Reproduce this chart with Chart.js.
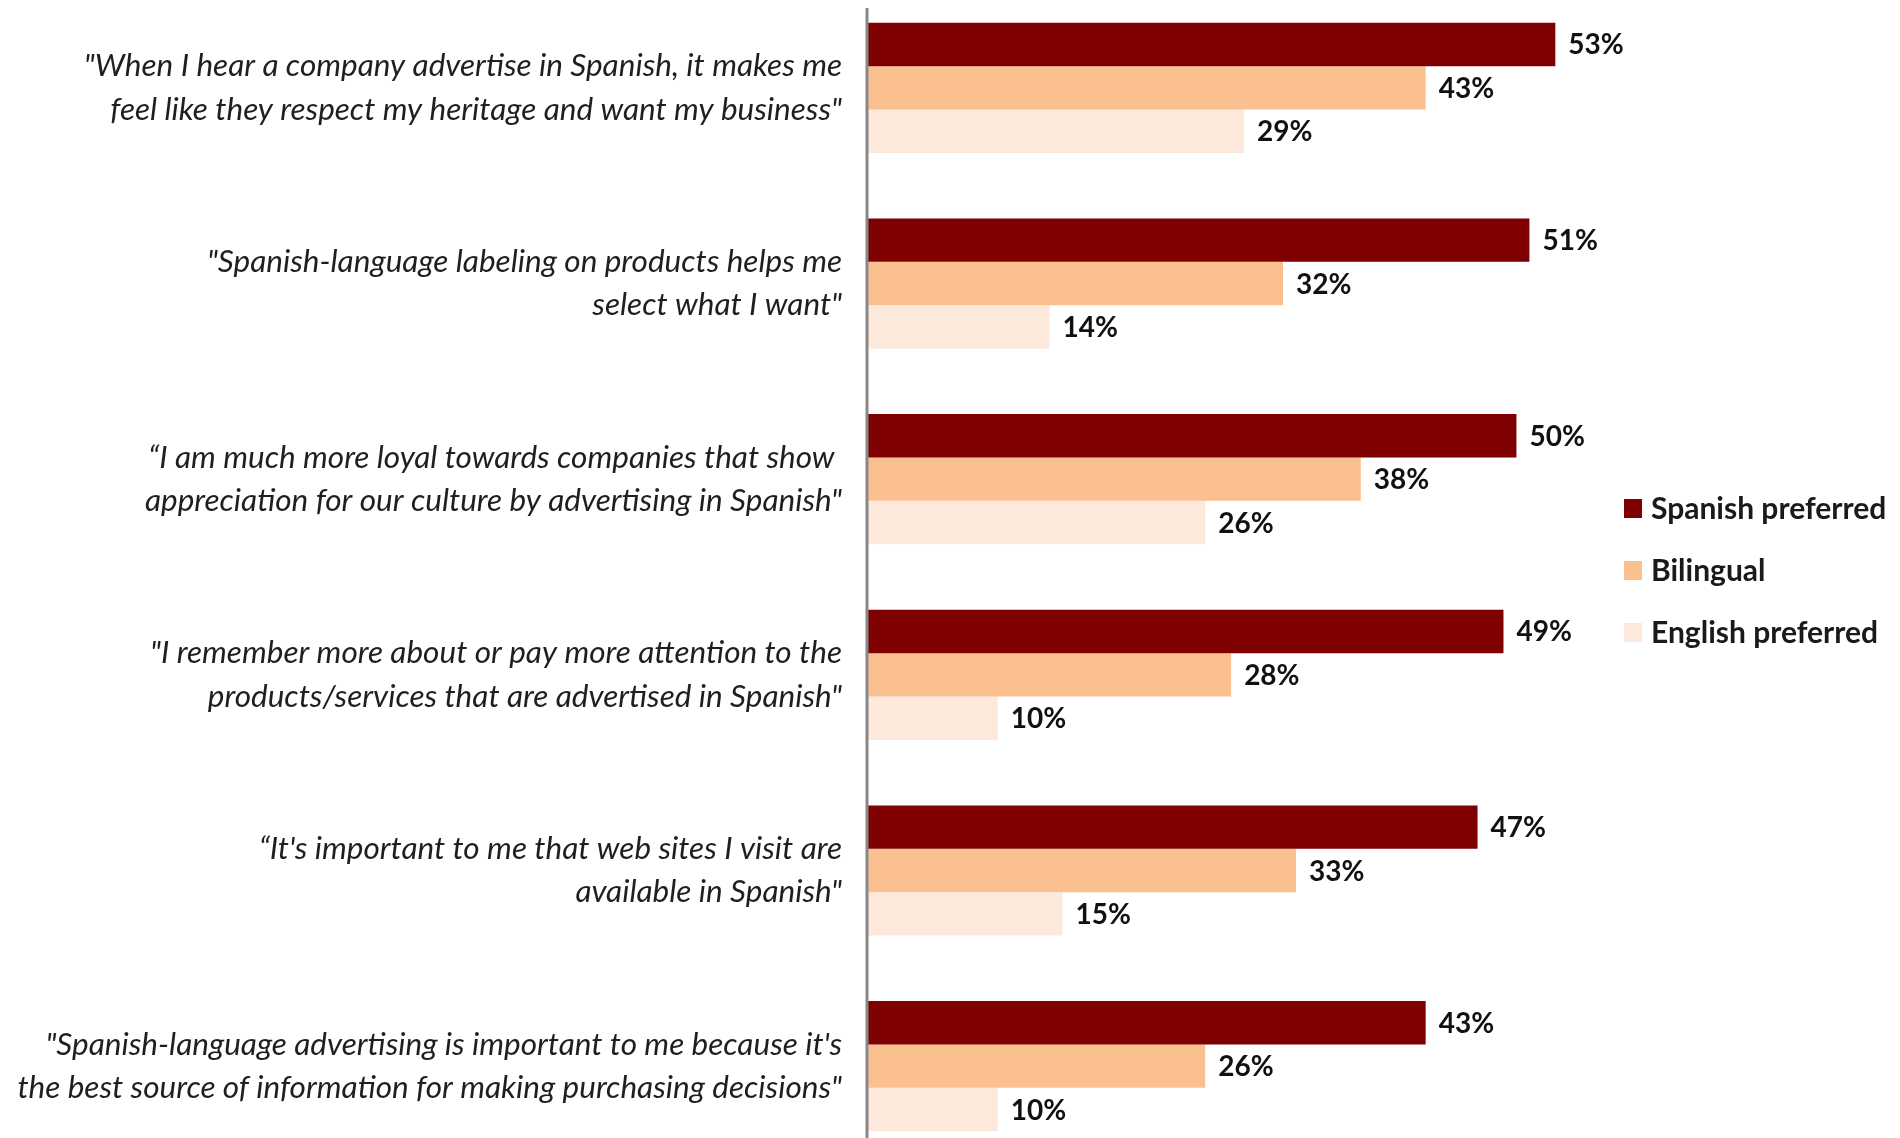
<!DOCTYPE html>
<html>
<head>
<meta charset="utf-8">
<script src="https://cdn.jsdelivr.net/npm/chart.js@4.4.1/dist/chart.umd.min.js"></script>
<style>
  html, body { margin: 0; padding: 0; background: #ffffff; overflow: hidden; }
  body { width: 1900px; height: 1138px; position: relative; }
  #wrap { position: absolute; left: 0; top: -10px; width: 1900px; height: 1174px; }
</style>
</head>
<body>
<div id="wrap"><canvas id="surveyChart"></canvas></div>
<script>
const categories = [
  ['"When I hear a company advertise in Spanish, it makes me', 'feel like they respect my heritage and want my business"'],
  ['"Spanish-language labeling on products helps me', 'select what I want"'],
  ["\u201cI am much more loyal towards companies that show ", 'appreciation for our culture by advertising in Spanish"'],
  ['"I remember more about or pay more attention to the', 'products/services that are advertised in Spanish"'],
  ["\u201cIt's important to me that web sites I visit are", 'available in Spanish"'],
  ['"Spanish-language advertising is important to me because it\'s', 'the best source of information for making purchasing decisions"'],
];
const seriesNames = ["Spanish preferred", "Bilingual", "English preferred"];
const spanishPreferred = [53, 51, 50, 49, 47, 43];
const bilingual = [43, 32, 38, 28, 33, 26];
const englishPreferred = [29, 14, 26, 10, 15, 10];

const colors = ["#7f0000", "#fac090", "#fde9db"];

// value labels at the end of each bar
const valueLabels = {
  id: "valueLabels",
  afterDatasetsDraw(chart) {
    const ctx = chart.ctx;
    ctx.save();
    ctx.font = "bold 28px Lato";
    ctx.fillStyle = "#111111";
    ctx.textAlign = "left";
    ctx.textBaseline = "middle";
    chart.data.datasets.forEach((ds, i) => {
      chart.getDatasetMeta(i).data.forEach((bar, j) => {
        ctx.fillText(ds.data[j] + "%", bar.x + 13, bar.y + 1);
      });
    });
    ctx.restore();
  },
};

// grey vertical axis line, starting a little above the first bar
const axisLine = {
  id: "axisLine",
  afterDatasetsDraw(chart) {
    const { ctx, chartArea } = chart;
    ctx.save();
    ctx.strokeStyle = "#878787";
    ctx.lineWidth = 3;
    ctx.beginPath();
    ctx.moveTo(chartArea.left - 1, chartArea.top + 18);
    ctx.lineTo(chartArea.left - 1, chartArea.bottom);
    ctx.stroke();
    ctx.restore();
  },
};

// legend on the right, square markers
const sideLegend = {
  id: "sideLegend",
  afterDraw(chart) {
    const ctx = chart.ctx;
    const left = 1624;
    const top = 518;
    ctx.save();
    ctx.font = "bold 30px Lato";
    ctx.textAlign = "left";
    ctx.textBaseline = "middle";
    chart.data.datasets.forEach((ds, i) => {
      const y = top + i * 62;
      ctx.fillStyle = ds.backgroundColor;
      ctx.fillRect(left, y - 9, 18, 19);
      ctx.fillStyle = "#1a1a1a";
      ctx.fillText(ds.label, left + 27, y + 1);
    });
    ctx.restore();
  },
};

const data = {
  labels: categories,
  datasets: [
    { label: seriesNames[0], data: spanishPreferred, backgroundColor: colors[0] },
    { label: seriesNames[1], data: bilingual, backgroundColor: colors[1] },
    { label: seriesNames[2], data: englishPreferred, backgroundColor: colors[2] },
  ],
};

const config = {
  type: "bar",
  data: data,
  options: {
    indexAxis: "y",
    responsive: true,
    maintainAspectRatio: false,
    animation: false,
    layout: { padding: { left: 0, right: 285, top: 0, bottom: 0 } },
    datasets: {
      bar: { categoryPercentage: 0.665, barPercentage: 1.0 },
    },
    scales: {
      x: {
        display: false,
        min: 0,
        max: 57.6,
      },
      y: {
        grid: { display: false },
        border: { display: false },
        afterFit(scale) {
          scale.width = 868;
          scale.paddingTop = 0;
          scale.paddingBottom = 0;
        },
        ticks: {
          padding: 18,
          color: "#1f1f1f",
          font: { family: "Lato", style: "italic", size: 31.5, lineHeight: 1.38 },
        },
      },
    },
    plugins: {
      legend: { display: false },
      tooltip: { enabled: false },
    },
  },
  plugins: [axisLine, valueLabels, sideLegend],
};

const surveyChart = new Chart(document.getElementById("surveyChart"), config);
</script>
</body>
</html>
